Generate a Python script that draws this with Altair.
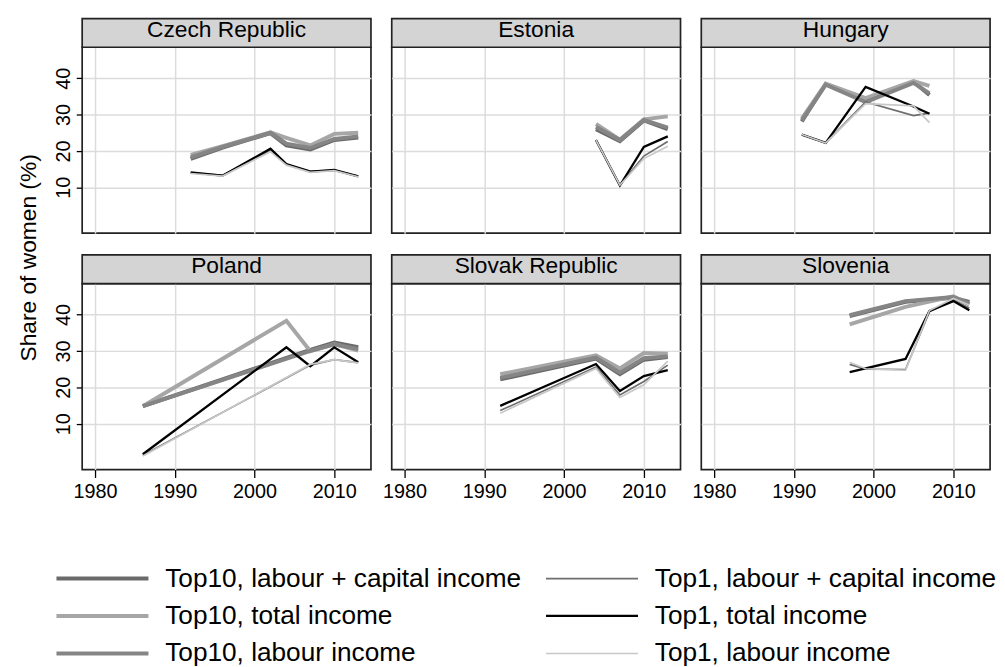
import altair as alt
import pandas as pd

# ---------------- data ----------------
COUNTRIES = ["Czech Republic", "Estonia", "Hungary", "Poland", "Slovak Republic", "Slovenia"]
SERIES = [
    "Top10, labour + capital income",
    "Top10, total income",
    "Top10, labour income",
    "Top1, labour + capital income",
    "Top1, total income",
    "Top1, labour income",
]
SERIES_COLORS = ["#6a6a6a", "#a6a6a6", "#858585", "#6e6e6e", "#000000", "#c8c8c8"]
SERIES_WIDTHS = [4, 4, 4, 1.7, 2.3, 1.7]

X_TICKS = [1980, 1990, 2000, 2010]
Y_TICKS = [10, 20, 30, 40]
Y_TITLE = "Share of women (%)"

CZ_YEARS = [1992, 1996, 2002, 2004, 2007, 2010, 2013]
CZ_T10_LC = [17.8, 20.9, 24.9, 21.5, 20.4, 23.0, 23.7]
CZ_T10_TOT = [18.9, 21.3, 25.1, 23.6, 21.5, 24.7, 25.0]
CZ_T10_LAB = [18.2, 21.1, 25.0, 22.0, 20.8, 23.3, 24.0]
CZ_T1_LC = [14.0, 13.3, 20.2, 16.3, 14.4, 14.7, 13.1]
CZ_T1_TOT = [14.1, 13.2, 20.6, 16.4, 14.3, 14.8, 13.0]
CZ_T1_LAB = [13.8, 13.1, 19.8, 16.1, 14.1, 14.6, 12.9]

EE_YEARS = [2004, 2007, 2010, 2013]
EE_T10_LC = [26.0, 22.7, 28.4, 26.0]
EE_T10_TOT = [27.4, 23.1, 28.7, 29.5]
EE_T10_LAB = [26.6, 23.0, 28.5, 26.4]
EE_T1_LC = [23.0, 10.6, 18.6, 22.6]
EE_T1_TOT = [23.0, 10.5, 21.1, 24.0]
EE_T1_LAB = [23.0, 10.6, 17.9, 21.3]

HU_YEARS = [1991, 1994, 1999, 2005, 2007]
HU_T10_LC = [28.1, 38.4, 33.6, 39.0, 35.4]
HU_T10_TOT = [28.9, 38.5, 34.5, 39.2, 37.9]
HU_T10_LAB = [28.4, 38.2, 33.4, 38.7, 35.8]
HU_T1_LC = [24.5, 22.2, 33.5, 29.7, 30.4]
HU_T1_TOT = [24.5, 22.2, 37.6, 32.2, 30.2]
HU_T1_LAB = [24.5, 22.2, 33.0, 32.4, 27.8]

PL_YEARS = [1986, 2004, 2007, 2010, 2013]
PL_T10_LC = [14.8, None, 30.3, 32.3, 31.0]
PL_T10_TOT = [14.8, 38.3, 29.9, 31.9, 30.1]
PL_T10_LAB = [14.8, None, 30.0, 31.8, 30.5]
PL_T1_LC = [1.3, None, 26.1, 27.6, 26.8]
PL_T1_TOT = [1.6, 31.0, 25.8, 31.0, 26.9]
PL_T1_LAB = [1.1, None, 26.3, 27.6, 26.7]

SK_YEARS = [1992, 2004, 2007, 2010, 2013]
SK_T10_LC = [22.2, 27.9, 23.6, 27.6, 28.3]
SK_T10_TOT = [23.6, 28.8, 25.2, 29.4, 29.2]
SK_T10_LAB = [22.6, 28.2, 24.0, 28.0, 28.5]
SK_T1_LC = [13.6, 25.6, 17.9, 21.6, 26.1]
SK_T1_TOT = [14.9, 26.4, 19.0, 23.1, 24.7]
SK_T1_LAB = [12.9, 25.2, 17.2, 20.7, 27.2]

SI_YEARS = [1997, 1999, 2004, 2007, 2010, 2012]
SI_T10_LC = [39.6, None, 43.5, None, 44.6, 43.5]
SI_T10_TOT = [37.3, None, 42.1, None, 45.0, 42.8]
SI_T10_LAB = [39.8, None, 43.7, None, 44.8, 43.0]
SI_T1_LC = [26.3, 25.0, 24.9, 40.8, 44.0, 41.8]
SI_T1_TOT = [24.2, None, 27.8, 41.0, 43.7, 41.2]
SI_T1_LAB = [26.9, 25.1, 24.7, 41.1, 44.4, 42.6]

COUNTRY_DATA = {
    "Czech Republic": (CZ_YEARS, [CZ_T10_LC, CZ_T10_TOT, CZ_T10_LAB, CZ_T1_LC, CZ_T1_TOT, CZ_T1_LAB]),
    "Estonia": (EE_YEARS, [EE_T10_LC, EE_T10_TOT, EE_T10_LAB, EE_T1_LC, EE_T1_TOT, EE_T1_LAB]),
    "Hungary": (HU_YEARS, [HU_T10_LC, HU_T10_TOT, HU_T10_LAB, HU_T1_LC, HU_T1_TOT, HU_T1_LAB]),
    "Poland": (PL_YEARS, [PL_T10_LC, PL_T10_TOT, PL_T10_LAB, PL_T1_LC, PL_T1_TOT, PL_T1_LAB]),
    "Slovak Republic": (SK_YEARS, [SK_T10_LC, SK_T10_TOT, SK_T10_LAB, SK_T1_LC, SK_T1_TOT, SK_T1_LAB]),
    "Slovenia": (SI_YEARS, [SI_T10_LC, SI_T10_TOT, SI_T10_LAB, SI_T1_LC, SI_T1_TOT, SI_T1_LAB]),
}

rows = []
for country in COUNTRIES:
    years, series_lists = COUNTRY_DATA[country]
    for s_idx, (name, vals) in enumerate(zip(SERIES, series_lists)):
        for yr, v in zip(years, vals):
            if v is not None:
                rows.append({"country": country, "series": name, "s_idx": s_idx, "year": yr, "share": v})
df = pd.DataFrame(rows)

# ---------------- layout constants ----------------
W, H = 292, 188
STRIP_H = 29
X_DOMAIN = [1978.4, 2014.6]
Y_DOMAIN = [-2.6, 48.5]
FONT = "Liberation Sans"
GRID = "#dcdcdc"

legend = alt.Legend(
    title=None,
    orient="none",
    legendX=-28,
    legendY=524,
    columns=2,
    symbolType="stroke",
    symbolSize=93 * 93,
    clipHeight=26,
    labelFontSize=26.5,
    labelFont=FONT,
    labelColor="black",
    labelOffset=15,
    labelLimit=600,
    rowPadding=11,
    columnPadding=22,
    padding=0,
)

color_enc = alt.Color(
    "series:N",
    scale=alt.Scale(type="ordinal", domain=SERIES, range=SERIES_COLORS),
    legend=legend,
)
width_enc = alt.StrokeWidth(
    "series:N",
    scale=alt.Scale(type="ordinal", domain=SERIES, range=SERIES_WIDTHS),
    legend=legend,
)


def panel(i, country):
    row, col = divmod(i, 3)
    bottom = row == 1
    left = col == 0
    xaxis = alt.Axis(
        values=X_TICKS, format="d", labels=bottom, ticks=bottom, tickSize=8, tickWidth=1.3,
        tickColor="black", labelFontSize=20, labelFont=FONT, labelColor="black", labelPadding=4,
        domain=False, grid=True, gridColor=GRID, gridWidth=1.5, title=None,
    )
    yaxis = alt.Axis(
        values=Y_TICKS, labels=left, ticks=left, tickSize=6, tickWidth=1.3, tickColor="black",
        labelAngle=270, labelAlign="center", labelBaseline="bottom", labelFontSize=20,
        labelFont=FONT, labelColor="black", labelPadding=3,
        domain=False, grid=True, gridColor=GRID, gridWidth=1.5, title=None,
    )
    lines = (
        alt.Chart(df)
        .transform_filter(alt.datum.country == country)
        .mark_line(strokeCap="butt")
        .encode(
            x=alt.X("year:Q", scale=alt.Scale(domain=X_DOMAIN, nice=False, zero=False), axis=xaxis),
            y=alt.Y("share:Q", scale=alt.Scale(domain=Y_DOMAIN, nice=False, zero=False), axis=yaxis),
            color=color_enc,
            strokeWidth=width_enc,
        )
    )
    strip_df = pd.DataFrame({"country": [country]})
    strip = alt.Chart(strip_df).mark_rect(fill="#d4d4d4", stroke="#222222", strokeWidth=1.7).encode(
        x=alt.value(0), x2=alt.value(W), y=alt.value(-STRIP_H), y2=alt.value(0)
    )
    strip_text = alt.Chart(strip_df).mark_text(
        fontSize=23, font=FONT, color="black", align="center", baseline="alphabetic"
    ).encode(text="country:N", x=alt.value(W / 2), y=alt.value(-10.5))
    layers = [lines, strip, strip_text]
    if i == 0:
        tdf = pd.DataFrame({"t": [Y_TITLE]})
        ytitle = alt.Chart(tdf).mark_text(
            angle=270, fontSize=23, font=FONT, color="black", align="center", baseline="middle"
        ).encode(text="t:N", x=alt.value(-54), y=alt.value(213))
        layers.append(ytitle)
    return alt.layer(*layers).properties(width=W, height=H)


chart = (
    alt.concat(*[panel(i, c) for i, c in enumerate(COUNTRIES)], columns=3,
               spacing={"row": 51, "column": 21})
    .properties(bounds="flush", padding={"left": 9, "top": 5, "right": 0, "bottom": 0})
    .configure(font=FONT)
    .configure_view(stroke="#222222", strokeWidth=1.7)
)

chart.save("out.html", embed_options={"renderer": "svg", "actions": False})
